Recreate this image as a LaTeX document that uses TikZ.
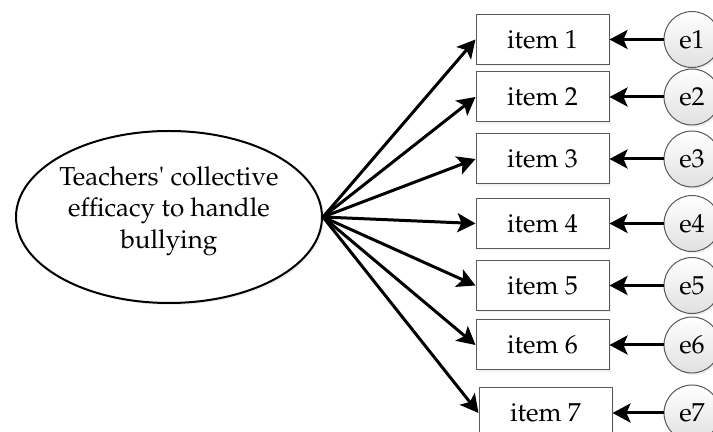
\documentclass[tikz,border=0pt]{standalone}
\usepackage[T1]{fontenc}
\usepackage{mathpazo}
\usepackage{tikz}
\usetikzlibrary{positioning, arrows.meta, shapes.geometric, shadows}

\begin{document}
\begin{tikzpicture}[x=0.5pt, y=-0.5pt,
	arr/.style={-{Stealth[length=9pt, width=9.5pt, inset=2pt]}, line width=1.5pt},
	latent/.style={ellipse, draw, line width=1pt, minimum width=153pt, minimum height=86pt, inner sep=0pt,
		drop shadow={opacity=0.12, shadow xshift=1pt, shadow yshift=-1pt}, fill=white},
	item/.style={rectangle, draw=black!65, line width=0.5pt, minimum width=66.5pt, minimum height=25pt,
		inner sep=0pt, font=\fontsize{13}{15}\selectfont, fill=white,
		drop shadow={opacity=0.1, shadow xshift=1pt, shadow yshift=-1pt}},
	err/.style={circle, draw=black!65, line width=0.5pt, minimum size=28pt, inner sep=0pt,
		font=\fontsize{13}{15}\selectfont, top color=white, bottom color=black!12,
		drop shadow={opacity=0.12, shadow xshift=1pt, shadow yshift=-1pt}}]
	\useasboundingbox (0,0) rectangle (713,432);

	\node[latent] (f) at (169,217) {};
	\node[align=center, font=\fontsize{13}{15.75}\selectfont] (ft) at (169,211)
		{Teachers\textquotesingle\ collective\\efficacy to handle\\bullying};

	\node[item] (i1) at (542.5,39.5) {item 1};
	\node[item, below=3.25pt of i1] (i2) {item 2};
	\node[item, below=5.5pt of i2] (i3) {item 3};
	\node[item, below=6.75pt of i3] (i4) {item 4};
	\node[item, below=5.5pt of i4] (i5) {item 5};
	\node[item, below=4.25pt of i5] (i6) {item 6};
	\node[item, below=8.5pt of i6, xshift=1.5pt] (i7) {item 7};

	\node[err, right=27pt of i1] (e1) {e1};
	\node[err, right=27pt of i2] (e2) {e2};
	\node[err, right=27pt of i3] (e3) {e3};
	\node[err, right=27pt of i4] (e4) {e4};
	\node[err, right=27pt of i5] (e5) {e5};
	\node[err, right=27pt of i6] (e6) {e6};
	\node[err, right=25.5pt of i7] (e7) {e7};

	\draw[arr] (f.east) -- (i1.west);
	\draw[arr] (f.east) -- (i2.west);
	\draw[arr] (f.east) -- (i3.west);
	\draw[arr] (f.east) -- (i4.west);
	\draw[arr] (f.east) -- (i5.west);
	\draw[arr] (f.east) -- (i6.west);
	\draw[arr] (f.east) -- (i7.west);

	\draw[arr] (e1) -- (i1);
	\draw[arr] (e2) -- (i2);
	\draw[arr] (e3) -- (i3);
	\draw[arr] (e4) -- (i4);
	\draw[arr] (e5) -- (i5);
	\draw[arr] (e6) -- (i6);
	\draw[arr] (e7) -- (i7);
\end{tikzpicture}
\end{document}
